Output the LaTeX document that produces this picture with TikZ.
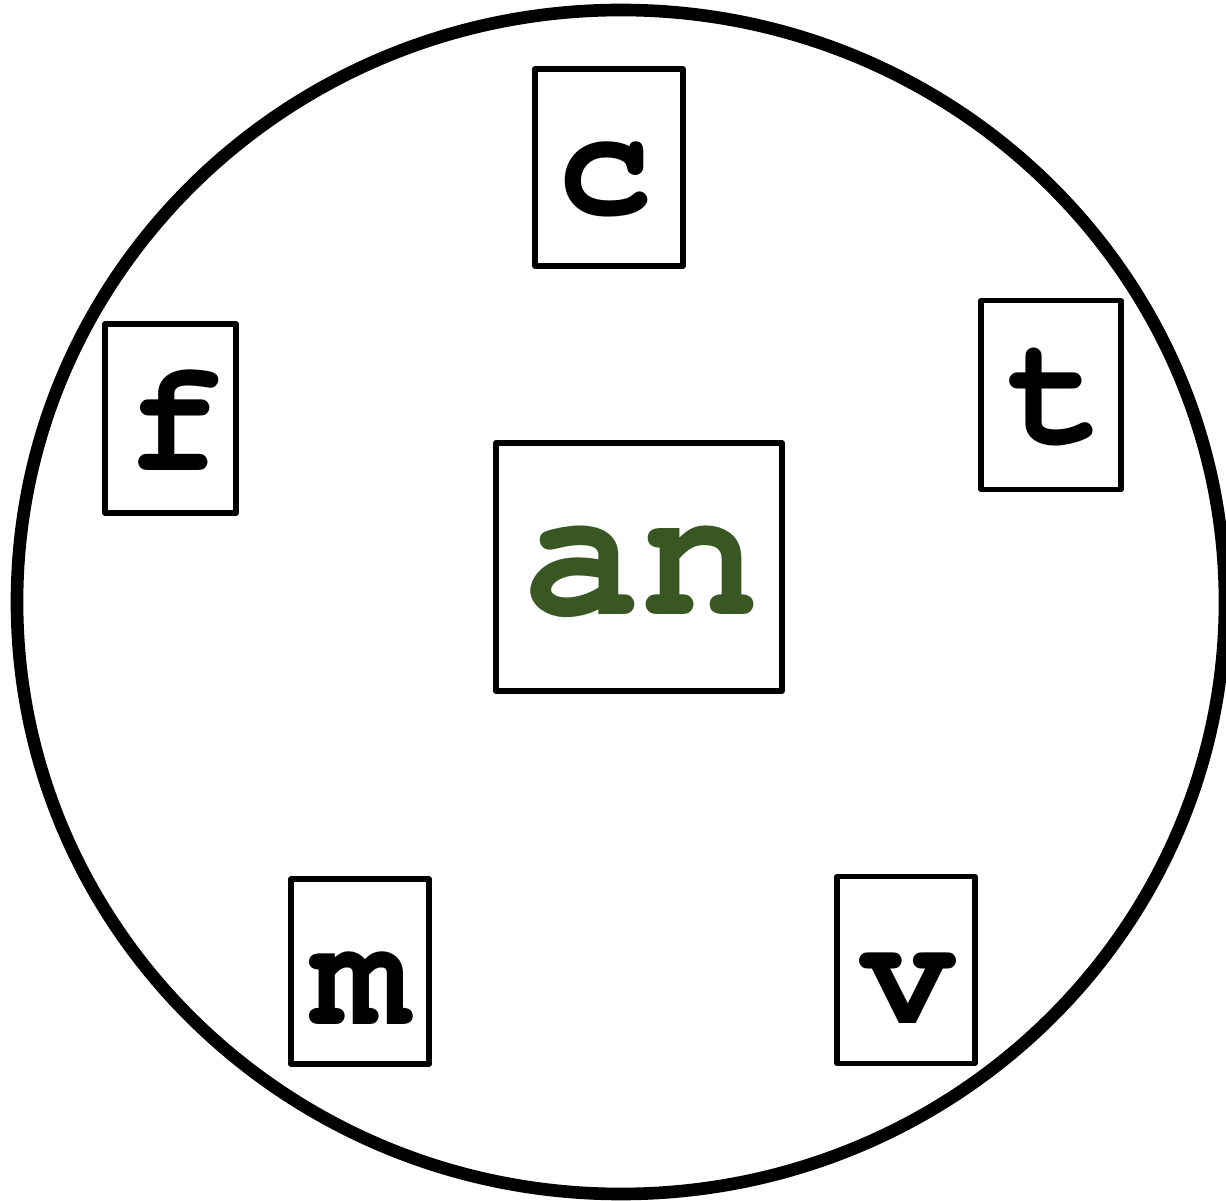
\documentclass[tikz,border=0pt]{standalone}
\usepackage[T1]{fontenc}
\usepackage{tikz}
\usetikzlibrary{positioning}
\definecolor{angreen}{RGB}{56,87,35}

\begin{document}
\begin{tikzpicture}[
  wordbox/.style={draw,line width=1.5pt,line join=round,inner sep=0pt},
  letter/.style={inner sep=0pt,font=\fontfamily{pcr}\fontseries{b}\fontsize{46}{50}\selectfont},
  bigletter/.style={inner sep=0pt,font=\fontfamily{pcr}\fontseries{b}\fontsize{56}{60}\selectfont,text=angreen},
]
  \useasboundingbox (0,0) rectangle (12.26,12);
  % outer ring
  \draw[line width=3.6pt] (6.21,5.98) ellipse [x radius=6.04, y radius=5.92];
  % boxes
  \node[wordbox,minimum width=1.48cm,minimum height=1.97cm] (cbox)  at (6.09,10.325) {};
  \node[wordbox,minimum width=1.40cm,minimum height=1.89cm] (tbox)  at (10.51,8.05)  {};
  \node[wordbox,minimum width=1.31cm,minimum height=1.89cm] (fbox)  at (1.705,7.815) {};
  \node[wordbox,minimum width=2.86cm,minimum height=2.48cm] (anbox) at (6.39,6.33)   {};
  \node[wordbox,minimum width=1.38cm,minimum height=1.85cm] (mbox)  at (3.60,2.285)  {};
  \node[wordbox,minimum width=1.38cm,minimum height=1.87cm] (vbox)  at (9.06,2.30)   {};
  % letters
  \foreach \n/\x/\y in {c/6.05/10.20,t/10.56/8.00,f/1.75/7.81,m/3.61/2.12,v/9.08/2.13} {
    \node[letter] (\n) at (\x,\y) {\n};
  }
  \node[bigletter] (an) at (6.41,6.28) {an};
\end{tikzpicture}
\end{document}
